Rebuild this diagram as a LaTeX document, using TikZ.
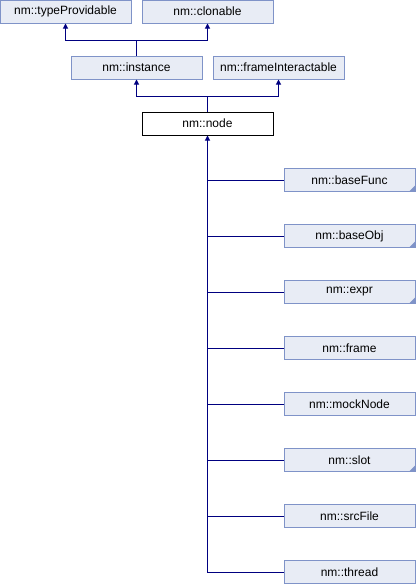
\documentclass[tikz,border=0pt]{standalone}
\usepackage{fontspec}
\setmainfont{Liberation Sans}
\usepackage{xcolor}
\usepackage{tikz}
\usetikzlibrary{arrows.meta}
\definecolor{boxfill}{HTML}{E8ECF5}
\definecolor{boxline}{HTML}{7F93C8}
\definecolor{edgeline}{HTML}{000080}
\begin{document}
\begin{tikzpicture}[x=1pt,y=-1pt]
\tikzstyle{cls} = [rectangle, minimum width=131pt, minimum height=23pt, inner sep=0pt, text centered, draw=boxline, fill=boxfill, line width=1pt, font=\fontsize{12}{14}\selectfont]
\tikzstyle{current} = [cls, draw=black, fill=white]
\tikzstyle{more} = [cls, path picture={\fill[boxline] (path picture bounding box.south east) -- ++(-6pt,0) -- ++(6pt,6pt) -- cycle;}]
\tikzstyle{inherit} = [edgeline, line width=1pt, -{Triangle[length=5pt,width=5pt]}]
\tikzstyle{link} = [edgeline, line width=1pt]

\useasboundingbox (0,0) rectangle (416,584);

\node (typeProvidable) [cls] at (65.5,11.5) {nm::typeProvidable};
\node (clonable) [cls] at (207.5,11.5) {nm::clonable};
\node (instance) [cls] at (136.5,67.5) {nm::instance};
\node (frameInteractable) [cls] at (278.5,67.5) {nm::frameInteractable};
\node (node) [current] at (207.5,123.5) {nm::node};

\node (baseFunc) [more] at (349.5,180) {nm::baseFunc};
\node (baseObj) [more] at (349.5,236) {nm::baseObj};
\node (expr) [more] at (349.5,292) {nm::expr};
\node (frame) [cls] at (349.5,348) {nm::frame};
\node (mockNode) [cls] at (349.5,404) {nm::mockNode};
\node (slot) [more] at (349.5,460) {nm::slot};
\node (srcFile) [cls] at (349.5,516) {nm::srcFile};
\node (thread) [cls] at (349.5,572) {nm::thread};

\coordinate (instanceUp) at (136.5,40);
\coordinate (nodeUp) at (207.5,96);

\draw [link] (instance.north) -- (instanceUp);
\draw [inherit] (instanceUp) -| (typeProvidable.south);
\draw [inherit] (instanceUp) -| (clonable.south);
\draw [link] (node.north) -- (nodeUp);
\draw [inherit] (nodeUp) -| (instance.south);
\draw [inherit] (nodeUp) -| (frameInteractable.south);

\draw [inherit] (thread.west) -| (node.south);
\foreach \child in {baseFunc, baseObj, expr, frame, mockNode, slot, srcFile}
  \draw [link] (\child.west) -- (\child.west -| node.south);
\end{tikzpicture}
\end{document}
